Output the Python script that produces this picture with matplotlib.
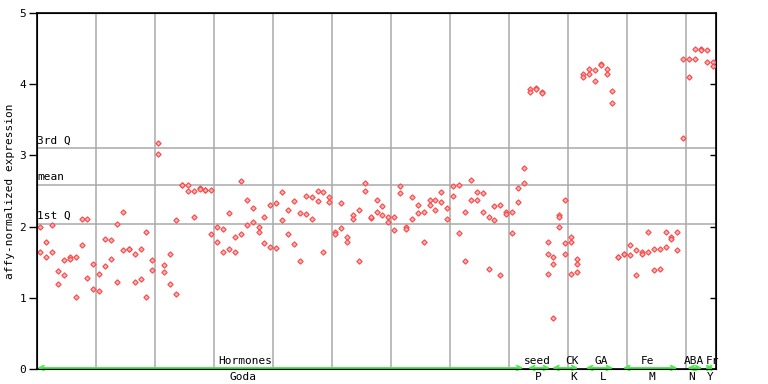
import matplotlib
matplotlib.use("Agg")
import matplotlib.pyplot as plt

# expression values per sample (replicates), sample index = position in list
samples = [
    [1.99, 1.64], [1.78, 1.57], [2.02, 1.64], [1.37, 1.19], [1.53, 1.32],
    [1.58, 1.55], [1.57, 1.01], [2.10, 1.74], [2.10, 1.28], [1.48, 1.13],
    [1.34, 1.09], [1.82, 1.44], [1.81, 1.54], [2.03, 1.22], [2.20, 1.67],
    [1.69, 1.68], [1.61, 1.22], [1.69, 1.26], [1.92, 1.01], [1.53, 1.39],
    [3.17, 3.02], [1.46, 1.36], [1.61, 1.19], [2.09, 1.06], [2.59, 2.58],
    [2.59, 2.50], [2.50, 2.14], [2.54, 2.53], [2.51, 2.52], [2.52, 1.89],
    [1.99, 1.79], [1.96, 1.65], [2.19, 1.69], [1.86, 1.64], [2.64, 1.89],
    [2.37, 2.02], [2.26, 2.07], [2.00, 1.92], [2.13, 1.77], [2.30, 1.71],
    [2.33, 1.70], [2.48, 2.09], [2.24, 1.89], [2.36, 1.75], [2.19, 1.51],
    [2.43, 2.17], [2.41, 2.10], [2.50, 2.36], [2.48, 1.64], [2.41, 2.34],
    [1.92, 1.89], [2.33, 1.98], [1.85, 1.79], [2.16, 2.10], [2.23, 1.51],
    [2.61, 2.50], [2.12, 2.13], [2.37, 2.21], [2.29, 2.16], [2.14, 2.07],
    [2.14, 1.95], [2.57, 2.47], [1.99, 1.96], [2.41, 2.10], [2.31, 2.19],
    [2.21, 1.79], [2.38, 2.30], [2.38, 2.23], [2.48, 2.34], [2.26, 2.10],
    [2.57, 2.43], [2.59, 1.91], [2.21, 1.51], [2.65, 2.37], [2.48, 2.38],
    [2.47, 2.21], [2.14, 1.41], [2.29, 2.09], [2.31, 1.32], [2.21, 2.17],
    [2.20, 1.91], [2.54, 2.34], [2.82, 2.61], [3.93, 3.89], [3.94, 3.93],
    [3.89, 3.88], [1.78, 1.62, 1.33], [1.58, 1.48, 0.71], [2.16, 2.13, 1.99],
    [2.38, 1.77, 1.61], [1.85, 1.78, 1.33], [1.55, 1.48, 1.36],
    [4.15, 4.10], [4.22, 4.14], [4.20, 4.04], [4.28, 4.27], [4.22, 4.14],
    [3.90, 3.73], [1.58, 1.57], [1.62, 1.61], [1.74, 1.60], [1.67, 1.32],
    [1.65, 1.61], [1.92, 1.65], [1.68, 1.39], [1.68, 1.41], [1.93, 1.71],
    [1.85, 1.82], [1.93, 1.67], [4.35, 3.24], [4.35, 4.10], [4.49, 4.36],
    [4.49, 4.48], [4.48, 4.31], [4.31, 4.25],
]

q3, mean, q1 = 3.10, 2.58, 2.04
stat_labels = ["3rd Q", "mean", "1st Q"]

# experiment groups along the bottom (start, end, centre)
group_names = ["Hormones", "seed", "CK", "GA", "Fe", "ABA", "Fr"]
group_start = [-0.5, 82.7, 86.8, 92.5, 98.8, 109.7, 112.7]
group_end = [81.9, 86.4, 91.2, 97.1, 108.0, 112.2, 114.1]
group_mid = [34.7, 84.2, 90.2, 95.1, 103.0, 110.8, 113.9]
lab_names = ["Goda", "P", "K", "L", "M", "N", "Y"]
lab_mid = [34.4, 84.4, 90.5, 95.4, 103.6, 110.5, 113.6]

mono = "DejaVu Sans Mono"
plt.rcParams["font.family"] = mono

fig = plt.figure(figsize=(7.68, 3.84), dpi=100)
ax = fig.add_axes([37.3 / 768, 1 - 369 / 384, (715.7 - 37.3) / 768, (369 - 13) / 384])

xs, ys = [], []
for i, vals in enumerate(samples):
    for v in vals:
        xs.append(i)
        ys.append(v)
ax.plot(xs, ys, linestyle="none", marker="D", ms=2.7, mec="#ff4545",
        mfc="#ffb5b5", mew=0.8, zorder=3)

ax.set_xlim(-0.5, 114.5)
ax.set_ylim(0, 5)

for gx in range(10, 115, 10):
    ax.axvline(gx - 0.5, color="#aaaaaa", lw=1.1, zorder=1)
for yv, lab in zip([q3, mean, q1], stat_labels):
    ax.axhline(yv, color="#aaaaaa", lw=1.1, zorder=1)
    ax.text(-0.5, yv + 0.04, lab, fontsize=8, ha="left", va="bottom")

for s, e in zip(group_start, group_end):
    ax.annotate("", xy=(e, 0.015), xytext=(s, 0.015),
                arrowprops=dict(arrowstyle="<->", color="#44ee44", lw=1.3,
                                mutation_scale=8, shrinkA=0, shrinkB=0),
                annotation_clip=False, zorder=4)
for name, m in zip(group_names, group_mid):
    ax.text(m, 0.04, name, fontsize=8, ha="center", va="bottom")
for name, m in zip(lab_names, lab_mid):
    ax.text(m, -0.04, name, fontsize=8, ha="center", va="top")

ax.set_xticks([])
ax.set_yticks([0, 1, 2, 3, 4, 5])
ax.tick_params(axis="y", direction="out", length=6, width=1, labelsize=8, pad=2)
for sp in ax.spines.values():
    sp.set_color("black")
    sp.set_linewidth(1.2)

# right-hand inward ticks
ax2 = ax.twinx()
ax2.set_ylim(0, 5)
ax2.set_yticks([1, 2, 3, 4])
ax2.set_yticklabels([])
ax2.tick_params(axis="y", direction="in", length=4, width=1)

ax.set_ylabel("affy-normalized expression", fontsize=8, labelpad=3)

fig.savefig("out.png", dpi=100)
